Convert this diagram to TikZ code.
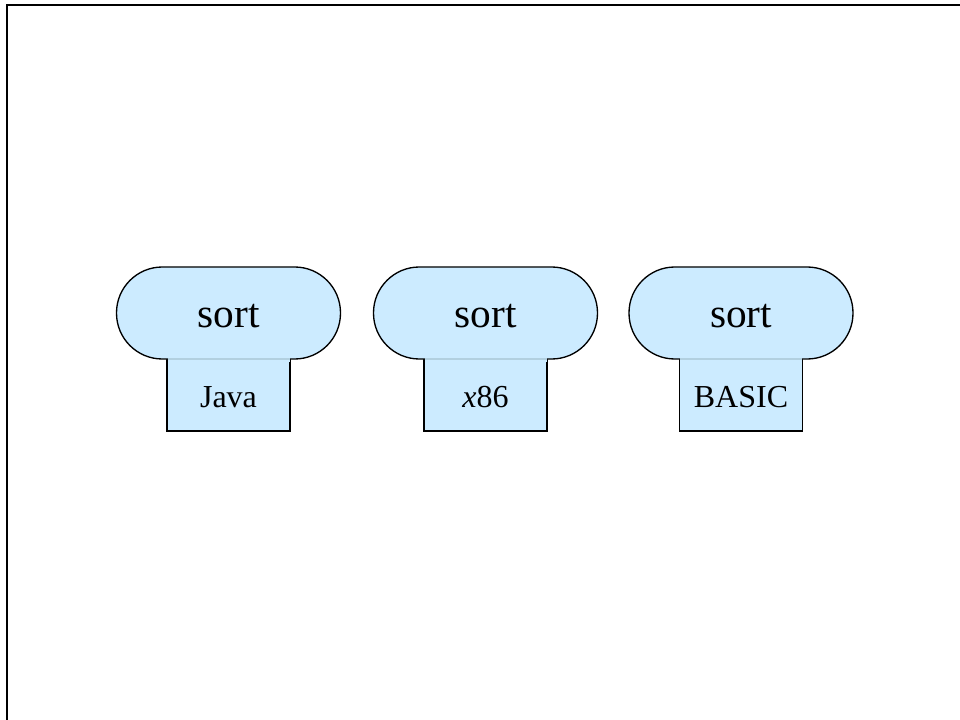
\documentclass[tikz,border=0pt]{standalone}
\usepackage{fontspec}
\setmainfont{Liberation Serif}
\begin{document}
\begin{tikzpicture}[x=0.75pt,y=-0.75pt,
  headbox/.style={fill=capblue,draw=black,line width=1pt,rounded corners=34.4pt},
  foot/.style={fill=capblue},
  footedge/.style={draw=black,line width=1pt},
  seam/.style={draw=seamgray,line width=0.8pt},
  headtext/.style={font=\fontsize{31}{36}\selectfont,anchor=base},
  foottext/.style={font=\fontsize{24}{28}\selectfont,anchor=base}]
\definecolor{capblue}{RGB}{204,235,255}
\definecolor{seamgray}{RGB}{178,208,224}
\useasboundingbox (0,0) rectangle (960,720);
% page frame
\draw[line width=2pt] (7,720) -- (7,5) -- (960,5);
% three components: rounded head with a square foot
\foreach \cx/\lbl/\nm in {228.5/Java/a, 485.5/\textit{x}86/b, 741/BASIC/c}{
  \fill[foot] (\cx-61.5,358) rectangle (\cx+61.5,431);
  \draw[footedge] (\cx-61.5,359) -- (\cx-61.5,431) -- (\cx+61.5,431) -- (\cx+61.5,359);
  \path[headbox] (\cx-112,267) rectangle (\cx+112,359);
  \fill[foot] (\cx-61,356) rectangle (\cx+61,362);
  \draw[seam] (\cx-61,359) -- (\cx+61,359);
  \node[headtext] (head\nm) at (\cx,327) {sort};
  \node[foottext] (foot\nm) at (\cx,407) {\lbl};
}
\end{tikzpicture}
\end{document}
